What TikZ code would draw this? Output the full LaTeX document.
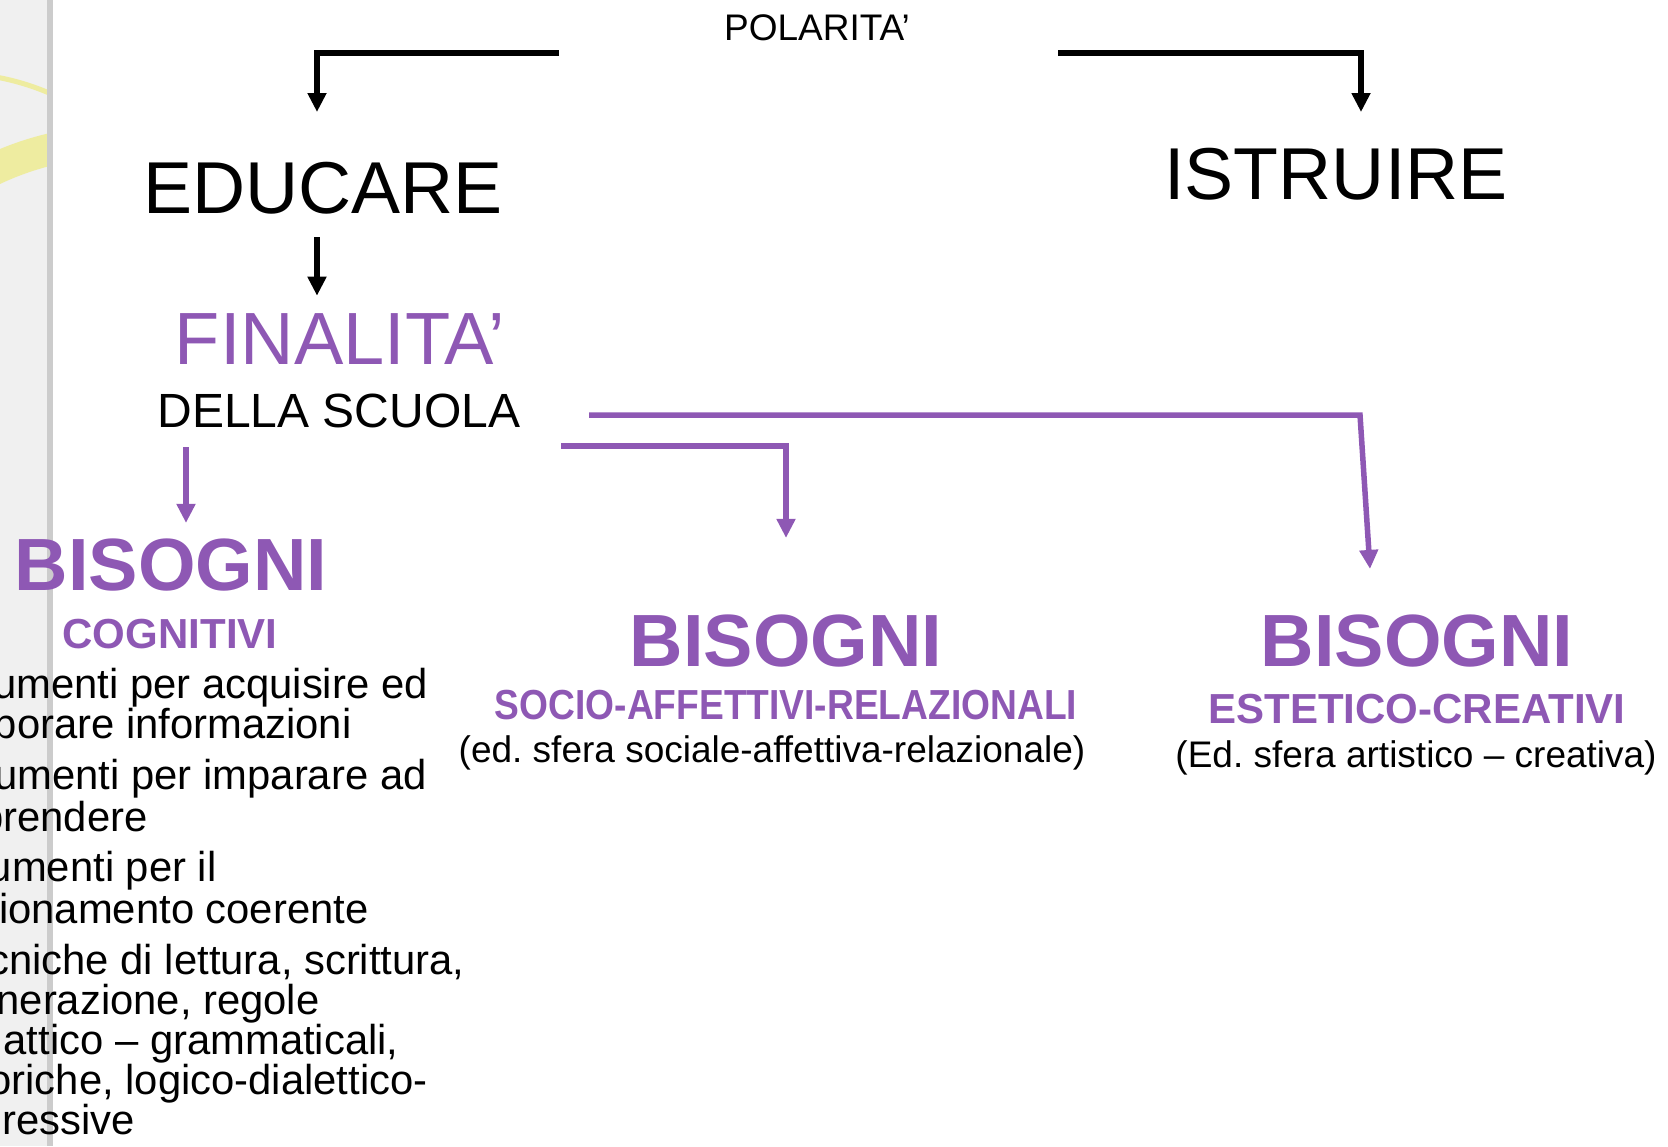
\documentclass[tikz,border=0pt]{standalone}
\usepackage{fontspec}
\setmainfont{Liberation Sans}
\newfontfamily\strettofont[FakeStretch=0.885]{Liberation Sans}
\usetikzlibrary{arrows.meta}
\definecolor{lilla}{RGB}{142,88,180}
\definecolor{giallino}{RGB}{238,236,160}
\frenchspacing

\begin{document}
\begin{tikzpicture}[x=0.5pt, y=-0.5pt,
            every node/.style={inner sep=0pt, anchor=base},
            black_edge/.style={draw=black, line width=3pt, -{Triangle[length=9.5pt, width=9pt]}},
            lilla_edge/.style={draw=lilla, line width=2.75pt, -{Triangle[length=9.5pt, width=9pt]}}]
            \tikzset{titolo/.style={font=\fontsize{36.75}{40}\selectfont},
              bisogni/.style={text=lilla, font=\fontsize{37}{40}\selectfont\bfseries},
              sottotitolo/.style={text=lilla, font=\fontsize{21}{24}\selectfont\bfseries},
              nota/.style={font=\fontsize{18.5}{21}\selectfont},
              elenco/.style={anchor=base east, font=\fontsize{20.9}{22}\selectfont}}
            \useasboundingbox (0,0) rectangle (1668,1146);
            % striscia a sinistra
            \fill[black!6] (0,0) rectangle (48,1146);
            \begin{scope}
              \clip (0,0) rectangle (47,300);
              \draw[giallino, line width=2.5pt] (-49,323) circle[radius=125pt];
              \draw[giallino, line width=16pt] (121,441) circle[radius=150pt];
            \end{scope}
            \draw[black!20, line width=3pt] (50,0) -- (50,1146);
            % testi
            \node[font=\fontsize{18.5}{21}\selectfont] (polarita) at (817,40) {POLARITA’};
            \node[titolo] (educare) at (323,213) {EDUCARE};
            \node[titolo] (istruire) at (1336,199) {ISTRUIRE};
            \node[text=lilla, font=\fontsize{37}{40}\selectfont] (finalita) at (340,364) {FINALITA’};
            \node[font=\fontsize{24}{27}\selectfont] (scuola) at (339,427) {DELLA SCUOLA};
            \node[bisogni] (bis_cogn) at (171,590) {BISOGNI};
            \node[sottotitolo] (cognitivi) at (170,648) {COGNITIVI};
            \node[bisogni] (bis_socio) at (786,666) {BISOGNI};
            \node[sottotitolo, font=\strettofont\fontsize{21}{24}\selectfont\bfseries] (socio) at (786,719) {SOCIO-AFFETTIVI-RELAZIONALI};
            \node[nota] (nota_socio) at (772,762) {(ed. sfera sociale-affettiva-relazionale)};
            \node[bisogni] (bis_estet) at (1417,666) {BISOGNI};
            \node[sottotitolo] (estetico) at (1417,723) {ESTETICO-CREATIVI};
            \node[nota] (nota_estet) at (1416,767) {(Ed. sfera artistico – creativa)};
            % elenco cognitivi
            \node[elenco] (riga1) at (428,698) {umenti per acquisire ed};
            \node[elenco] (riga2) at (352,738) {porare informazioni};
            \node[elenco] (riga3) at (427,789) {umenti per imparare ad};
            \node[elenco] (riga4) at (148,831) {prendere};
            \node[elenco] (riga5) at (217,881) {umenti per il};
            \node[elenco] (riga6) at (369,923) {ionamento coerente};
            \node[elenco] (riga7) at (465,974) {cniche di lettura, scrittura,};
            \node[elenco] (riga8) at (320,1014) {nerazione, regole};
            \node[elenco] (riga9) at (399,1054) {attico – grammaticali,};
            \node[elenco] (riga10) at (428,1094) {oriche, logico-dialettico-};
            \node[elenco] (riga11) at (135,1134) {ressive};
            % frecce
            \coordinate (pol_sx) at (559,53);
            \coordinate (pol_dx) at (1058,53);
            \coordinate (edu_in) at (317,112);
            \coordinate (ist_in) at (1361,112);
            \coordinate (fin_1) at (186,447);
            \coordinate (fin_2) at (561,446);
            \coordinate (fin_3) at (589,415);
            \coordinate (gomito) at (1360,415);
            \draw [black_edge] (pol_sx) -| (edu_in);
            \draw [black_edge] (pol_dx) -| (ist_in);
            \draw [black_edge] ([yshift=-11.5pt]educare.south -| edu_in) -- ([yshift=8.5pt]finalita.north -| edu_in);
            \draw [lilla_edge] (fin_1) -- ([yshift=7.5pt]bis_cogn.north -| fin_1);
            \draw [lilla_edge] (fin_2) -| ([yshift=38pt]bis_socio.north);
            \draw [lilla_edge] (fin_3) -- (gomito) -- ([xshift=-23.5pt, yshift=22.5pt]bis_estet.north);
        \end{tikzpicture}
\end{document}
